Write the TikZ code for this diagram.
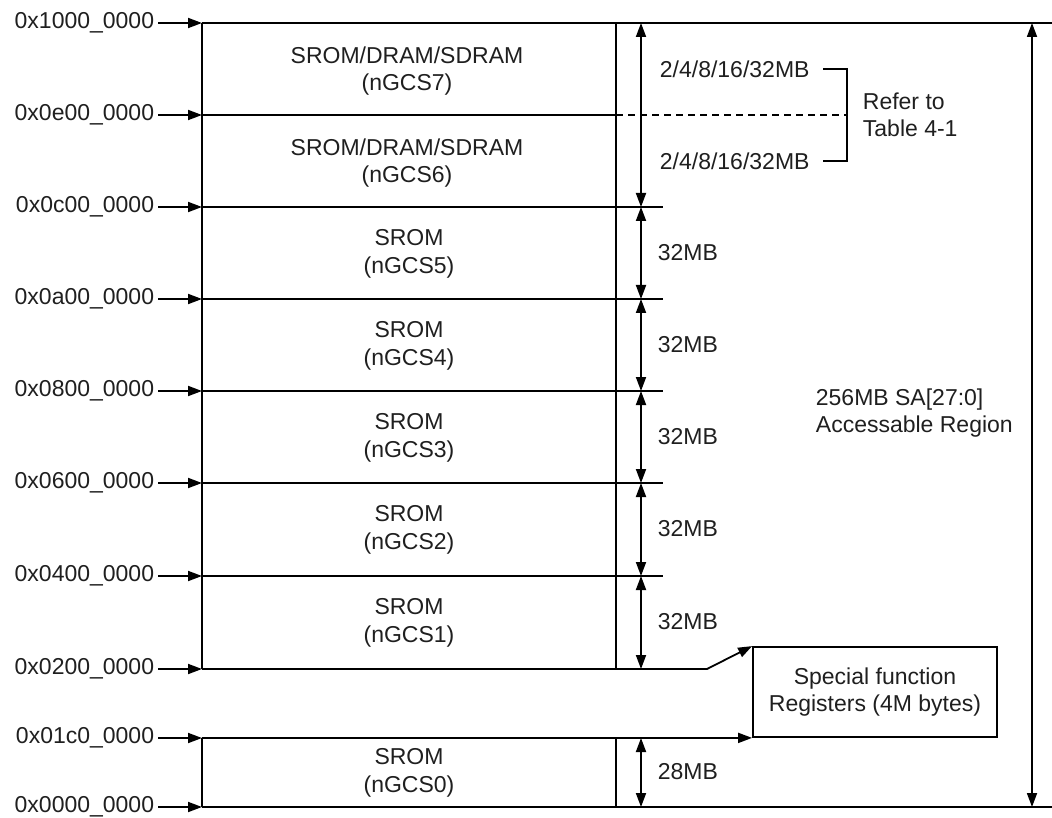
\documentclass[tikz,border=0pt]{standalone}
\usepackage{fontspec}
\setmainfont{Liberation Sans}
\usetikzlibrary{arrows.meta}
\begin{document}
\begin{tikzpicture}[x=1pt,y=-1pt, line width=1.8pt, line cap=butt,
  every node/.style={font=\fontsize{23}{27.5}\selectfont, inner sep=0pt, text=black!88},
  tipend/.style={-{Triangle[length=14pt,width=10pt]}},
  dimarrow/.style={{Triangle[length=14pt,width=10pt]}-{Triangle[length=14pt,width=10pt]}},
  addr/.style={anchor=east, inner xsep=3pt},
  region/.style={align=center},
  sizelbl/.style={anchor=west},
  note/.style={align=left, anchor=west}]
\useasboundingbox (0,0) rectangle (1052,818);

% coordinates on the left edge of the map
\coordinate (l10) at (202,23);
\coordinate (l0e) at (202,115);
\coordinate (l0c) at (202,207);
\coordinate (l0a) at (202,299);
\coordinate (l08) at (202,391);
\coordinate (l06) at (202,483);
\coordinate (l04) at (202,576);
\coordinate (l02) at (202,669);
\coordinate (l01) at (202,738);
\coordinate (l00) at (202,807);

% inner column
\coordinate (m10) at (616,23);
\coordinate (m0e) at (616,115);
\coordinate (m02) at (616,669);
\coordinate (m01) at (616,738);
\coordinate (m00) at (616,807);

% right ends
\coordinate (r10) at (1052,23);
\coordinate (r00) at (1052,807);
\coordinate (d0e) at (847,115);
\coordinate (e0c) at (663,207);
\coordinate (e0a) at (663,299);
\coordinate (e08) at (663,391);
\coordinate (e06) at (663,483);
\coordinate (e04) at (663,576);
\coordinate (e02) at (707,669);

% address labels
\node[addr] (a10) at (158,23) {0x1000\_0000};
\node[addr] (a0e) at (158,115) {0x0e00\_0000};
\node[addr] (a0c) at (158,207) {0x0c00\_0000};
\node[addr] (a0a) at (158,299) {0x0a00\_0000};
\node[addr] (a08) at (158,391) {0x0800\_0000};
\node[addr] (a06) at (158,483) {0x0600\_0000};
\node[addr] (a04) at (158,576) {0x0400\_0000};
\node[addr] (a02) at (158,669) {0x0200\_0000};
\node[addr] (a01) at (158,738) {0x01c0\_0000};
\node[addr] (a00) at (158,807) {0x0000\_0000};

\foreach \k in {10,0e,0c,0a,08,06,04,02,01,00}
  \draw[tipend] (a\k) -- (l\k);

% special function register box
\node[draw, minimum width=244pt, minimum height=90pt, align=center] (sfr) at (875,692)
  {Special function\\Registers (4M bytes)};

% horizontal lines
\draw (l10) -- (r10);
\draw (l0e) -- (m0e);
\draw[line width=1.4pt, dash pattern=on 7pt off 5pt] (m0e) -- (d0e);
\draw (l0c) -- (e0c);
\draw (l0a) -- (e0a);
\draw (l08) -- (e08);
\draw (l06) -- (e06);
\draw (l04) -- (e04);
\draw[tipend] (l02) -- (e02) -- (sfr.north west);
\draw[tipend] (l01) -- (sfr.south west);
\draw (l00) -- (r00);

% vertical lines
\draw (l10) -- (l02);
\draw (l01) -- (l00);
\draw (m10) -- (m02);
\draw (m01) -- (m00);

% size arrows
\coordinate (s10) at (641,23);
\coordinate (s0c) at (641,207);
\coordinate (s0a) at (641,299);
\coordinate (s08) at (641,391);
\coordinate (s06) at (641,483);
\coordinate (s04) at (641,576);
\coordinate (s02) at (641,669);
\coordinate (s01) at (641,738);
\coordinate (s00) at (641,807);
\draw[dimarrow] (s10) -- (s0c);
\draw[dimarrow] (s0c) -- (s0a);
\draw[dimarrow] (s0a) -- (s08);
\draw[dimarrow] (s08) -- (s06);
\draw[dimarrow] (s06) -- (s04);
\draw[dimarrow] (s04) -- (s02);
\draw[dimarrow] (s01) -- (s00);

% total arrow
\coordinate (t10) at (1032,23);
\coordinate (t00) at (1032,807);
\draw[dimarrow] (t10) -- (t00);

% region labels
\node[region] (g7) at (407,71) {SROM/DRAM/SDRAM\\(nGCS7)};
\node[region] (g6) at (407,163) {SROM/DRAM/SDRAM\\(nGCS6)};
\node[region] (g5) at (409,254) {SROM\\(nGCS5)};
\node[region] (g4) at (409,346) {SROM\\(nGCS4)};
\node[region] (g3) at (409,438) {SROM\\(nGCS3)};
\node[region] (g2) at (409,530) {SROM\\(nGCS2)};
\node[region] (g1) at (409,623) {SROM\\(nGCS1)};
\node[region] (g0) at (409,773) {SROM\\(nGCS0)};

% size labels
\node[sizelbl] (z7) at (659,69) {2/4/8/16/32MB};
\node[sizelbl] (z6) at (659,161) {2/4/8/16/32MB};
\node[sizelbl] (z5) at (657,253) {32MB};
\node[sizelbl] (z4) at (657,345) {32MB};
\node[sizelbl] (z3) at (657,437) {32MB};
\node[sizelbl] (z2) at (657,529) {32MB};
\node[sizelbl] (z1) at (657,622) {32MB};
\node[sizelbl] (z0) at (657,772) {28MB};

% bracket
\coordinate (b1) at (823,69);
\coordinate (b2) at (847,69);
\coordinate (b3) at (847,161);
\coordinate (b4) at (823,161);
\draw[line width=1.5pt] (b1) -- (b2) -- (b3) -- (b4);
\node[note] (ref) at (862,115) {Refer to\\Table 4-1};

\node[note] (tot) at (815,413) {256MB SA[27:0]\\Accessable Region};
\end{tikzpicture}
\end{document}
